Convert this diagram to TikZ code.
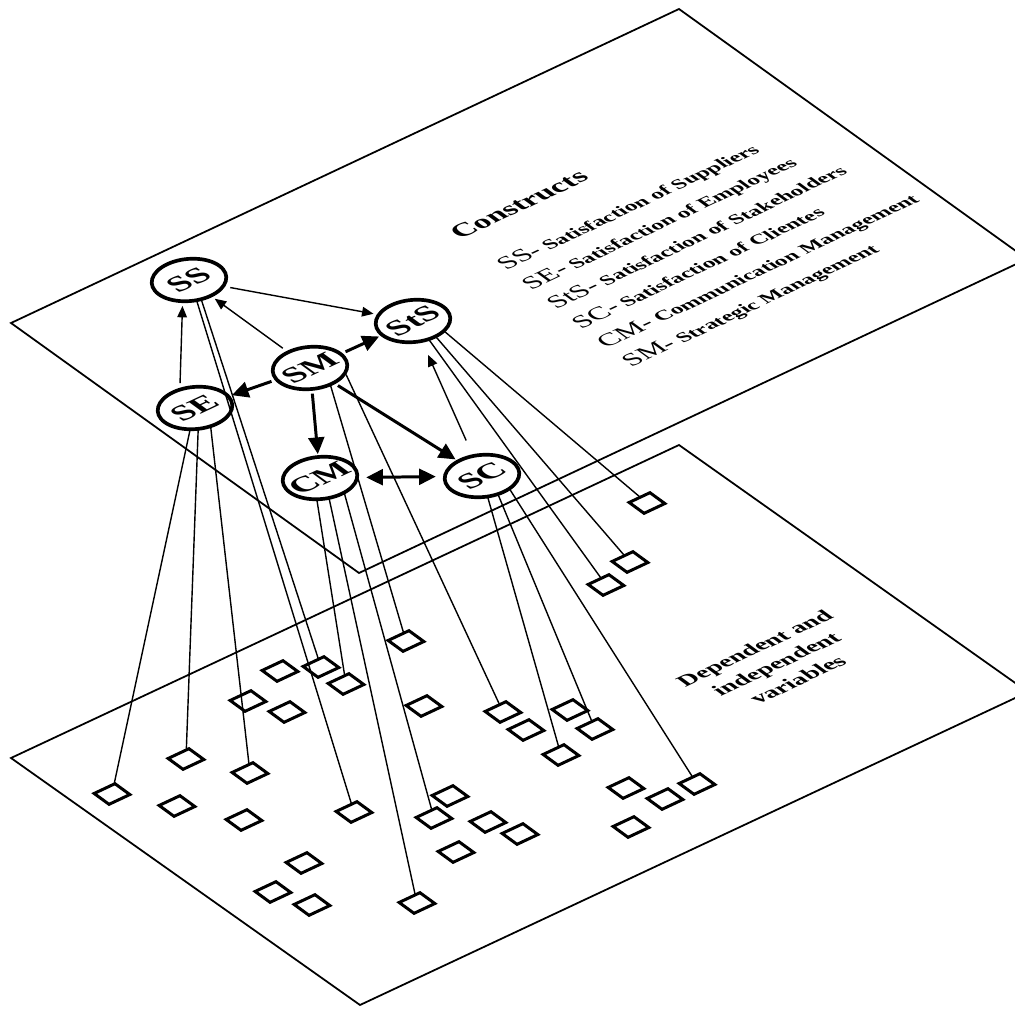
\documentclass[tikz,border=0pt]{standalone}
\usepackage{fontspec}
\setmainfont{Liberation Serif}
\usetikzlibrary{arrows.meta,positioning}

\begin{document}
\begin{tikzpicture}[x=0.02cm,y=-0.02cm,
        iso/.style={cm={0.905,0.425,-0.648,0.472,(0,0)}},
        construct/.style={circle,draw,line width=2.1pt,minimum size=1.34cm,inner sep=0pt,iso,font=\fontsize{20}{20}\selectfont\bfseries},
        indicator/.style={rectangle,draw,line width=1.7pt,minimum size=0.46cm,inner sep=0pt,iso},
        planetext/.style={iso,inner sep=0pt,font=\bfseries},
        link/.style={line width=0.8pt},
        weak/.style={-{Triangle[length=6.5pt,width=5.5pt]},line width=0.8pt,shorten <=3pt,shorten >=2pt},
        strong/.style={-{Triangle[length=9.5pt,width=9pt]},line width=1.7pt,shorten <=2pt,shorten >=1pt}]
                \useasboundingbox (0,0) rectangle (1015,1010);
                \clip (0,0) rectangle (1015,1010);
                \draw[line width=1pt] (11,323) -- (679,9) -- (1027,259) -- (359,573) -- cycle;
                \draw[line width=1pt] (11,758) -- (679,445) -- (1028,692) -- (360,1005) -- cycle;
                \node[planetext,anchor=base west,font=\fontsize{17.5}{17.5}\selectfont\bfseries] (title) at (460,240) {Constructs};
                \foreach \abbr/\name [count=\i] in {SS-/Satisfaction of Suppliers,SE-/Satisfaction of Employees,StS-/Satisfaction of Stakeholders,SC-/Satisfaction of Clientes,CM-/Communication Management,SM-/Strategic Management}
                    \node[planetext,anchor=base west,font=\fontsize{12.8}{12.8}\selectfont\bfseries] (key\i) at ({506+25*(\i-1)},{271+19.4*(\i-1)}) {{\fontsize{16.5}{16.5}\selectfont\mdseries\abbr}\ \name};
                \node[planetext,align=center,font=\fontsize{14.5}{19}\selectfont\bfseries] (vars) at (776,664) {Dependent and\\independent\\variables};
                \node[construct] (ss) at (189,280) {SS};
                \node[construct] (sts) at (413,321) {StS};
                \node[construct] (sm) at (310,368) {SM};
                \node[construct] (se) at (195,408) {SE};
                \node[construct] (cm) at (320,478) {CM};
                \node[construct] (sc) at (482,476) {SC};
                \foreach \n/\x/\y in {1/647/503,2/630/562,3/606/585,4/406/641,5/321/667,6/280/671,7/346/684,8/248/701,9/287/712,10/424/706,11/503/712,12/526/730,13/570/710,14/595/729,15/561/755,16/186/759,17/250/773,18/112/794,19/177/806,20/244/820,21/354/812,22/450/796,23/434/818,24/488/822,25/520/834,26/456/852,27/626/788,28/665/799,29/697/784,30/631/827,31/304/863,32/273/892,33/312/905,34/417/903}
                    \node[indicator] (q\n) at (\x,\y) {};
                \foreach \from/\ang/\to in {se/227/18,se/239/16,se/258/17,ss/246/21,ss/253/5,cm/230/7,cm/248/34,cm/273/23,sm/266/4,sm/301/11,sts/289/1,sts/271/2,sts/259/3,sc/243/15,sc/259/14,sc/280/29}
                    \draw[link] (\from.\ang) -- (q\to);
                \draw[weak] (se.77) -- (ss.225);
                \draw[weak] (sm) -- (ss);
                \draw[weak] (ss) -- (sts);
                \draw[weak,shorten <=9pt,shorten >=8pt] (sc) -- (sts);
                \draw[strong] (sm) -- (sts);
                \draw[strong] (sm) -- (se);
                \draw[strong] (sm) -- (cm);
                \draw[strong] (sm) -- (sc);
                \draw[strong,{Triangle[length=9.5pt,width=9pt]}-{Triangle[length=9.5pt,width=9pt]},shorten <=4pt,shorten >=4pt] (cm) -- (sc);
            \end{tikzpicture}
\end{document}
